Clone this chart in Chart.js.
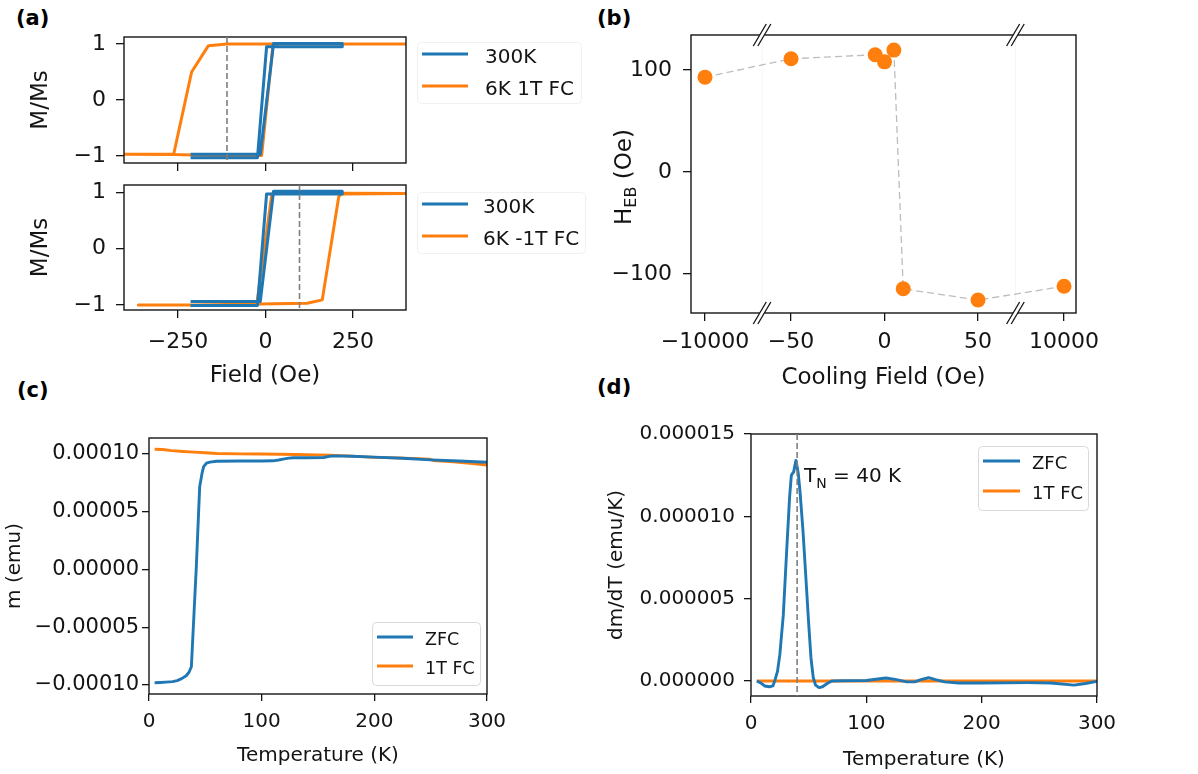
<!DOCTYPE html>
<html>
<head>
<meta charset="utf-8">
<script src="https://cdn.jsdelivr.net/npm/chart.js@4.4.1/dist/chart.umd.min.js"></script>
<style>
  body { margin: 0; background: #fff; width: 1198px; height: 774px; overflow: hidden; position: relative; }
  canvas { position: absolute; left: 0; top: 0; }
  .tag { position: absolute; font: bold 21px "DejaVu Sans", sans-serif; line-height: 21px; color: #000; }
</style>
</head>
<body>
<div class="tag" style="left:16px;top:8px">(a)</div>
<div class="tag" style="left:597px;top:8px">(b)</div>
<div class="tag" style="left:17px;top:380px">(c)</div>
<div class="tag" style="left:597px;top:377px">(d)</div>
<canvas id="aTop" width="1198" height="774"></canvas>
<canvas id="aBot" width="1198" height="774"></canvas>
<canvas id="panelB" width="1198" height="774"></canvas>
<canvas id="panelC" width="1198" height="774"></canvas>
<canvas id="panelD" width="1198" height="774"></canvas>
<script>
// ---- (a) hysteresis loops, field in Oe, M/Ms ----
const aTopField300 = [-214, -100, -15, 23, 100, 219, 219, 100, 3, -23, -100, -214];
const aTopM300 = [-0.97, -0.97, -0.97, 1.01, 1.01, 1.01, 0.95, 0.95, 0.95, -1.03, -1.03, -1.03];
const aTopField6K = [420, -110, -163, -211, -262, -420, -262, -150, -11, 21, 40, 420];
const aTopM6K = [1.0, 1.0, 0.97, 0.5, -0.965, -0.97, -0.975, -0.99, -0.99, 0.97, 1.0, 1.0];
const aTopShift = -110;

const aBotField300 = [-214, -100, -15, 23, 100, 219, 219, 100, 3, -23, -100, -214];
const aBotM300 = [-0.94, -0.94, -0.94, 1.02, 1.02, 1.02, 0.97, 0.97, 0.97, -1.01, -1.01, -1.01];
const aBotField6K = [420, 40, 18, -25, -200, -363, -200, 119, 162, 209, 216, 420];
const aBotM6K = [0.98, 0.99, 0.97, -0.99, -1.0, -1.0, -1.0, -0.97, -0.91, 0.92, 0.97, 0.98];
const aBotShift = 97;

const aFieldTicks = [-250, 0, 250];
const aMTicks = [-1, 0, 1];

// ---- (b) exchange bias vs cooling field ----
const coolField = [-10000, -50, -5, 0, 5, 10, 50, 10000];
const hEB = [93, 111, 115, 108, 119.5, -114.5, -125.5, -112];
const bTickFields = [-10000, -50, 0, 50, 10000];
const bTickLabels = ['\u221210000', '\u221250', '0', '50', '10000'];
const bYTicks = [-100, 0, 100];
const bBreaks = [-65.5, 70];
// outer segments of the broken axis are squeezed next to the -50..50 window
const brokenX = v => Math.abs(v) > 1000 ? Math.sign(v) * 96 : v;

// ---- (c) m(T) ----
const tZfc = [5, 10, 15, 21, 25, 29, 33, 35.5, 37.6, 40, 42, 44, 45, 47, 48.5, 51, 54, 60, 80, 100, 110, 115, 119, 124, 128, 140, 155, 160, 165, 180, 200, 225, 250, 275, 300];
const mZfc = [-9.8e-5, -9.78e-5, -9.75e-5, -9.71e-5, -9.62e-5, -9.45e-5, -9.2e-5, -8.9e-5, -8.42e-5, -3.7e-5, 2.4e-6, 4.9e-5, 7.17e-5, 8.3e-5, 8.9e-5, 9.2e-5, 9.3e-5, 9.37e-5, 9.39e-5, 9.39e-5, 9.41e-5, 9.48e-5, 9.55e-5, 9.64e-5, 9.68e-5, 9.68e-5, 9.7e-5, 9.8e-5, 9.84e-5, 9.8e-5, 9.73e-5, 9.63e-5, 9.49e-5, 9.4e-5, 9.28e-5];
const tFc = [5, 12, 20, 30, 40, 50, 60, 80, 100, 130, 160, 180, 200, 220, 240, 249, 252, 270, 285, 300];
const mFc = [1.041e-4, 1.039e-4, 1.029e-4, 1.022e-4, 1.016e-4, 1.011e-4, 1.004e-4, 1.001e-4, 1.0e-4, 9.95e-5, 9.9e-5, 9.82e-5, 9.71e-5, 9.66e-5, 9.6e-5, 9.56e-5, 9.44e-5, 9.32e-5, 9.2e-5, 9.05e-5];
const cYTicks = [-1e-4, -5e-5, 0, 5e-5, 1e-4];
const tempTicks = [0, 100, 200, 300];

// ---- (d) dm/dT ----
const tDer = [5, 8, 12, 16, 19, 21, 23, 25, 28, 31, 33.5, 35, 37, 39, 41, 42.5, 45, 48, 50, 52, 54, 56, 59, 62, 66, 70, 80, 100, 110, 117, 125, 135, 142, 148, 154, 160, 168, 180, 200, 240, 260, 280, 290, 300];
const dmdtZfc = [0, -1e-7, -3e-7, -3.5e-7, -3e-7, 1e-7, 6e-7, 1.6e-6, 4.0e-6, 8.0e-6, 1.12e-5, 1.25e-5, 1.27e-5, 1.34e-5, 1.26e-5, 1.15e-5, 9.2e-6, 5.8e-6, 3.5e-6, 1.4e-6, 2e-7, -2.5e-7, -4e-7, -3.5e-7, -1.5e-7, 0, 2e-8, 3e-8, 1.2e-7, 1.8e-7, 1e-7, -5e-8, -5e-8, 1e-7, 2e-7, 8e-8, -5e-8, -1.2e-7, -1.2e-7, -1e-7, -1.2e-7, -2.5e-7, -1.5e-7, -2e-8];
const tDerFc = [5, 50, 100, 150, 200, 250, 300];
const dmdtFc = [0, 0, 0, 0, 0, 0, 0];
const dYTicks = [0, 5e-6, 1e-5, 1.5e-5];
const tN = 40;
const annoT = 46, annoY = 1.21e-5;

// ---- shared setup ----
const W = 1198, H = 774;
const BLUE = '#1f77b4', ORANGE = '#ff7f0e', INK = '#141414';

Chart.defaults.font.family = '"DejaVu Sans", sans-serif';
Chart.defaults.color = INK;
Chart.defaults.animation = false;
Chart.defaults.events = [];
Chart.defaults.plugins.legend.display = false;
Chart.defaults.plugins.tooltip.enabled = false;

const minus = s => String(s).replace('-', '\u2212');
const xy = (xs, ys) => xs.map((x, i) => ({ x, y: ys[i] }));

function line(label, xs, ys, color, width) {
  return { label, data: xy(xs, ys), borderColor: color, backgroundColor: color, borderWidth: width, pointRadius: 0, tension: 0, borderJoinStyle: 'round' };
}

function scale(c, horizontal) {
  return {
    type: 'linear',
    min: c.min, max: c.max,
    afterBuildTicks: s => { s.ticks = c.ticks.map(v => ({ value: v })); },
    afterFit: s => {
      if (horizontal) { s.height = c.size; s.paddingLeft = 0; s.paddingRight = 0; }
      else { s.width = c.size; s.paddingTop = 0; s.paddingBottom = 0; }
    },
    border: { display: false },
    grid: { drawOnChartArea: false, tickLength: c.tl, color: INK, lineWidth: 1.3 },
    ticks: { padding: c.pad, autoSkip: false, maxRotation: 0, font: { size: c.fs }, color: INK, callback: c.fmt },
    title: { display: !!c.title, text: c.title, padding: 0, font: { size: c.tfs }, color: INK }
  };
}

function makeChart(id, box, xs, ys, datasets, plugins) {
  return new Chart(document.getElementById(id), {
    type: 'line',
    data: { datasets },
    options: {
      responsive: false,
      layout: { padding: { left: box.l - ys.size, top: box.t, right: W - box.r, bottom: H - box.b - xs.size } },
      scales: { x: scale(xs, true), y: scale(ys, false) }
    },
    plugins: plugins || []
  });
}

// axes frame on all four sides
Chart.register({
  id: 'frame',
  afterDatasetsDraw(chart) {
    const { ctx, chartArea: a } = chart;
    ctx.save();
    ctx.strokeStyle = INK;
    ctx.lineWidth = 1.4;
    ctx.strokeRect(a.left, a.top, a.right - a.left, a.bottom - a.top);
    ctx.restore();
  }
});

function vLine(value) {
  return {
    id: 'vline',
    afterDatasetsDraw(chart) {
      const { ctx, chartArea: a, scales: { x } } = chart;
      const px = x.getPixelForValue(value);
      ctx.save();
      ctx.strokeStyle = '#7f7f7f';
      ctx.lineWidth = 1.6;
      ctx.setLineDash([6, 3]);
      ctx.beginPath();
      ctx.moveTo(px, a.top);
      ctx.lineTo(px, a.bottom);
      ctx.stroke();
      ctx.restore();
    }
  };
}

function boxLegend(cfg) {
  return {
    id: 'boxLegend',
    afterDraw(chart) {
      const ctx = chart.ctx;
      ctx.save();
      ctx.fillStyle = 'rgba(255,255,255,0.8)';
      ctx.strokeStyle = cfg.edge;
      ctx.lineWidth = 1;
      ctx.beginPath();
      if (ctx.roundRect) ctx.roundRect(cfg.x + 0.5, cfg.y + 0.5, cfg.w, cfg.h, 4);
      else ctx.rect(cfg.x + 0.5, cfg.y + 0.5, cfg.w, cfg.h);
      ctx.fill();
      ctx.stroke();
      ctx.font = cfg.fs + 'px "DejaVu Sans"';
      ctx.textBaseline = 'alphabetic';
      chart.data.datasets.forEach((ds, i) => {
        const y = cfg.rows[i];
        ctx.strokeStyle = ds.borderColor;
        ctx.lineWidth = ds.borderWidth;
        ctx.beginPath();
        ctx.moveTo(cfg.lx0, y);
        ctx.lineTo(cfg.lx1, y);
        ctx.stroke();
        ctx.fillStyle = INK;
        ctx.fillText(ds.label, cfg.tx, y + cfg.dy);
      });
      ctx.restore();
    }
  };
}

// ---- (a) top ----
makeChart('aTop', { l: 124, t: 37, r: 406, b: 163 },
  { min: -404, max: 401, ticks: aFieldTicks, size: 20, tl: 8, pad: 11, fs: 22, fmt: () => '' },
  { min: -1.125, max: 1.125, ticks: aMTicks, size: 97, tl: 8, pad: 10, fs: 22, fmt: v => minus(v), title: 'M/Ms', tfs: 23 },
  [line('300K', aTopField300, aTopM300, BLUE, 3), line('6K 1T FC', aTopField6K, aTopM6K, ORANGE, 3)],
  [vLine(aTopShift), boxLegend({ x: 417, y: 42, w: 164, h: 61, edge: '#f0f0f0', rows: [54, 86], lx0: 422, lx1: 468, tx: 485, fs: 20, dy: 8.5 })]
);

// ---- (a) bottom ----
makeChart('aBot', { l: 124, t: 185, r: 406, b: 310 },
  { min: -404, max: 401, ticks: aFieldTicks, size: 80, tl: 8, pad: 11, fs: 22, fmt: v => minus(v), title: 'Field (Oe)', tfs: 23 },
  { min: -1.09, max: 1.13, ticks: aMTicks, size: 97, tl: 8, pad: 10, fs: 22, fmt: v => minus(v), title: 'M/Ms', tfs: 23 },
  [line('300K', aBotField300, aBotM300, BLUE, 3), line('6K -1T FC', aBotField6K, aBotM6K, ORANGE, 3)],
  [vLine(aBotShift), boxLegend({ x: 417, y: 192, w: 168, h: 61, edge: '#f0f0f0', rows: [204, 236], lx0: 422, lx1: 468, tx: 483, fs: 20, dy: 8.5 })]
);

// ---- (b) ----
const breakMarks = {
  id: 'breaks',
  afterDraw(chart) {
    const { ctx, chartArea: a, scales: { x } } = chart;
    ctx.save();
    bBreaks.forEach(b => {
      const px = x.getPixelForValue(b);
      ctx.strokeStyle = 'rgba(0,0,0,0.04)';
      ctx.lineWidth = 1;
      ctx.beginPath();
      ctx.moveTo(px, a.top);
      ctx.lineTo(px, a.bottom);
      ctx.stroke();
      [a.top, a.bottom].forEach(py => {
        ctx.fillStyle = '#fff';
        ctx.fillRect(px - 2.3, py - 1.6, 4.6, 3.2);
        ctx.strokeStyle = INK;
        ctx.lineWidth = 1.3;
        [-2.3, 2.3].forEach(o => {
          ctx.beginPath();
          ctx.moveTo(px + o - 6.5, py + 11);
          ctx.lineTo(px + o + 6.5, py - 11);
          ctx.stroke();
        });
      });
    });
    ctx.restore();
  }
};

const hebTitle = {
  id: 'hebTitle',
  afterDraw(chart) {
    const ctx = chart.ctx, a = chart.chartArea;
    const big = '23px "DejaVu Sans"', small = '16px "DejaVu Sans"';
    ctx.save();
    ctx.font = big;
    const wH = ctx.measureText('H').width, wO = ctx.measureText(' (Oe)').width;
    ctx.font = small;
    const wE = ctx.measureText('EB').width;
    const total = wH + wE + wO;
    ctx.translate(a.left - 60, (a.top + a.bottom) / 2 + 3);
    ctx.rotate(-Math.PI / 2);
    ctx.fillStyle = INK;
    ctx.textBaseline = 'alphabetic';
    let x = -total / 2;
    ctx.font = big; ctx.fillText('H', x, 0); x += wH;
    ctx.font = small; ctx.fillText('EB', x, 5); x += wE;
    ctx.font = big; ctx.fillText(' (Oe)', x, 0);
    ctx.restore();
  }
};

makeChart('panelB', { l: 691, t: 35, r: 1076, b: 313 },
  { min: -103.5, max: 102.4, ticks: bTickFields.map(brokenX), size: 79, tl: 8, pad: 8, fs: 22, fmt: (v, i) => bTickLabels[i], title: 'Cooling Field (Oe)', tfs: 23 },
  { min: -138.2, max: 134.3, ticks: bYTicks, size: 91, tl: 8, pad: 11, fs: 22, fmt: v => minus(v) },
  [{
    label: 'HEB', data: coolField.map((f, i) => ({ x: brokenX(f), y: hEB[i] })),
    borderColor: '#bdbdbd', borderWidth: 1.3, borderDash: [7, 4], tension: 0,
    pointRadius: 7.5, pointBackgroundColor: ORANGE, pointBorderColor: ORANGE, pointBorderWidth: 0
  }],
  [breakMarks, hebTitle]
);

// ---- (c) ----
makeChart('panelC', { l: 149, t: 438, r: 487, b: 694 },
  { min: 0, max: 300, ticks: tempTicks, size: 74, tl: 7, pad: 9, fs: 20, fmt: v => String(v), title: 'Temperature (K)', tfs: 20 },
  { min: -1.078e-4, max: 1.1385e-4, ticks: cYTicks, size: 146, tl: 7, pad: 3, fs: 21, fmt: v => minus(v.toFixed(5)), title: 'm (emu)', tfs: 20 },
  [line('ZFC', tZfc, mZfc, BLUE, 2.9), line('1T FC', tFc, mFc, ORANGE, 2.9)],
  [boxLegend({ x: 372, y: 622, w: 108, h: 63, edge: '#d9d9d9', rows: [637, 666], lx0: 377, lx1: 413, tx: 425, fs: 17.5, dy: 8 })]
);

// ---- (d) ----
const tnLabel = {
  id: 'tnLabel',
  afterDatasetsDraw(chart) {
    const { ctx, scales: { x, y } } = chart;
    let px = x.getPixelForValue(annoT);
    const py = y.getPixelForValue(annoY);
    ctx.save();
    ctx.fillStyle = INK;
    ctx.textBaseline = 'alphabetic';
    ctx.font = '20px "DejaVu Sans"';
    ctx.fillText('T', px, py); px += ctx.measureText('T').width;
    ctx.font = '14px "DejaVu Sans"';
    ctx.fillText('N', px, py + 6.3); px += ctx.measureText('N').width;
    ctx.font = '20px "DejaVu Sans"';
    ctx.fillText(' = 40 K', px, py);
    ctx.restore();
  }
};

makeChart('panelD', { l: 751, t: 434, r: 1097, b: 696 },
  { min: 0, max: 300, ticks: tempTicks, size: 76, tl: 7, pad: 9, fs: 20, fmt: v => String(v), title: 'Temperature (K)', tfs: 20 },
  { min: -9.1e-7, max: 1.5e-5, ticks: dYTicks, size: 146.5, tl: 7, pad: 9, fs: 20, fmt: v => v.toFixed(6), title: 'dm/dT (emu/K)', tfs: 20 },
  [line('ZFC', tDer, dmdtZfc, BLUE, 2.9), line('1T FC', tDerFc, dmdtFc, ORANGE, 2.9)],
  [vLine(tN), tnLabel, boxLegend({ x: 978, y: 446, w: 110, h: 64, edge: '#d9d9d9', rows: [461, 491], lx0: 983, lx1: 1020, tx: 1032, fs: 18, dy: 8.3 })]
);
</script>
</body>
</html>
